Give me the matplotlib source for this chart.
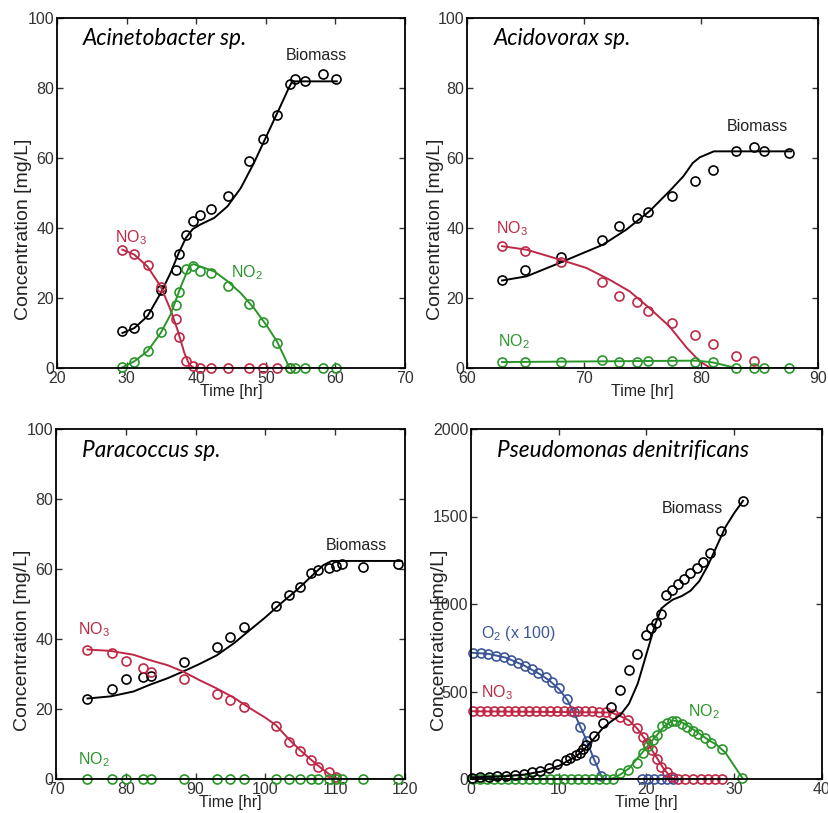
import matplotlib
matplotlib.use('Agg')
import matplotlib.pyplot as plt

plt.rcParams['font.family'] = ['Liberation Sans', 'DejaVu Sans']
plt.rcParams['mathtext.default'] = 'regular'

RED = '#BE2846'
GREEN = '#2A962A'
BLUE = '#3C5596'
BLACK = 'black'

# Acinetobacter sp. -- measured
aci_t = [29.4, 31.0, 33.1, 34.9, 37.1, 37.5, 38.6, 39.6, 40.6, 42.1, 44.6, 47.6, 49.6, 51.6, 53.5, 54.2, 55.6, 58.2, 60.1]
aci_bio = [10.5, 11.4, 15.4, 22.2, 27.9, 32.7, 38.1, 41.9, 43.8, 45.5, 49.0, 59.2, 65.4, 72.4, 81.0, 82.7, 82.1, 84.1, 82.6]
aci_no3 = [33.8, 32.7, 29.5, 23.1, 14.0, 8.9, 2.1, 0.5, 0, 0, 0, 0, 0, 0, 0]
aci_no2 = [0.2, 1.7, 4.8, 10.3, 18.1, 21.7, 28.3, 29.0, 27.6, 27.0, 23.5, 18.3, 13.0, 7.1, 0, 0, 0, 0, 0]
# Acinetobacter sp. -- model
aci_fit_bio_t = [29.4, 31.1, 33.0, 34.9, 36.3, 37.5, 38.5, 39.5, 40.6, 42.6, 44.5, 46.4, 48.3, 50.2, 52.1, 53.3, 53.8, 60.2]
aci_fit_bio = [10.0, 11.4, 14.8, 21.4, 27.1, 32.9, 37.1, 39.7, 41.0, 42.9, 46.2, 51.4, 58.6, 66.7, 74.8, 80.0, 81.9, 81.9]
aci_fit_no3_t = [29.4, 31.1, 33.0, 34.9, 36.3, 37.3, 38.3, 39.0, 39.7, 54.0]
aci_fit_no3 = [33.8, 32.4, 29.0, 23.3, 16.7, 11.0, 4.3, 1.0, 0.0, 0.0]
aci_fit_no2_t = [29.4, 31.1, 33.0, 34.9, 36.3, 37.8, 39.0, 39.6, 40.6, 42.6, 44.5, 46.4, 48.3, 50.2, 51.6, 53.3, 53.5, 60.2]
aci_fit_no2 = [0.2, 1.9, 4.8, 10.0, 15.2, 23.3, 29.0, 29.7, 29.0, 27.6, 24.8, 21.4, 17.1, 11.9, 7.6, 0.5, 0.0, 0.0]

# Acidovorax sp. -- measured
acd_t = [63.0, 65.0, 68.0, 71.5, 73.0, 74.5, 75.5, 77.5, 79.5, 81.0, 83.0, 84.5, 85.4, 87.5]
acd_bio = [25.0, 28.1, 31.7, 36.5, 40.7, 42.9, 44.5, 49.2, 53.3, 56.5, 62.1, 63.0, 61.9, 61.3]
acd_no3 = [34.8, 33.3, 30.2, 24.5, 20.5, 18.9, 16.4, 12.8, 9.4, 6.8, 3.5, 1.9]
acd_no2 = [1.7, 1.7, 1.7, 2.2, 1.8, 1.8, 2.0, 2.1, 1.8, 1.6, 0, 0, 0, 0]
# Acidovorax sp. -- model
acd_fit_bio_t = [63.0, 65.1, 67.9, 69.6, 71.6, 73.6, 75.6, 77.3, 78.5, 79.3, 79.9, 81.1, 87.7]
acd_fit_bio = [25.0, 26.2, 30.0, 32.4, 35.2, 39.5, 44.8, 50.5, 54.8, 58.6, 60.2, 61.9, 61.9]
acd_fit_no3_t = [63.0, 65.1, 67.9, 70.2, 72.2, 73.9, 75.6, 77.3, 78.8, 79.9, 80.8]
acd_fit_no3 = [34.8, 33.8, 31.0, 28.6, 25.2, 21.9, 17.1, 11.9, 5.7, 1.9, 0.0]
acd_fit_no2_t = [63.0, 79.6, 81.0, 83.0, 87.5]
acd_fit_no2 = [1.7, 2.1, 1.6, 0.0, 0.0]

# Paracoccus sp. -- measured
par_t = [74.5, 78.0, 80.0, 82.5, 83.6, 88.4, 93.0, 94.9, 97.0, 101.5, 103.4, 105.0, 106.6, 107.6, 109.1, 110.1, 111.0, 114.0, 119.0]
par_bio = [23.0, 25.6, 28.6, 29.1, 29.4, 33.5, 37.8, 40.5, 43.3, 49.4, 52.6, 54.9, 58.8, 59.7, 60.2, 60.9, 61.3, 60.7, 61.4]
par_no3 = [37.0, 35.9, 33.8, 31.6, 30.5, 28.5, 24.3, 22.6, 20.7, 15.2, 10.7, 8.0, 5.4, 3.5, 1.9, 0.7]
par_no2 = [0] * 19
# Paracoccus sp. -- model
par_fit_bio_t = [74.5, 77.8, 81.1, 83.4, 86.0, 88.2, 90.5, 93.0, 95.5, 97.8, 100.0, 102.3, 104.5, 106.8, 108.3, 109.5, 119.5]
par_fit_bio = [23.0, 23.6, 25.0, 26.9, 28.8, 30.7, 32.8, 35.3, 38.8, 42.6, 46.2, 50.3, 54.0, 58.3, 61.1, 62.3, 62.3]
par_fit_no3_t = [74.5, 77.8, 81.1, 83.4, 86.0, 88.2, 90.5, 93.0, 95.5, 97.8, 100.0, 101.5, 103.4, 105.0, 106.6, 108.0, 109.0, 110.0, 110.5]
par_fit_no3 = [37.0, 36.6, 35.5, 34.0, 32.5, 30.7, 28.3, 25.9, 23.2, 20.2, 17.5, 15.4, 11.3, 8.2, 5.4, 3.1, 1.6, 0.3, 0.0]
par_fit_no2_t = [74.5, 119.5]
par_fit_no2 = [0.0, 0.0]

# Pseudomonas denitrificans -- measured
pse_bio_t = [0.1, 1.0, 2.0, 3.0, 4.0, 5.0, 6.0, 6.9, 7.9, 8.9, 9.8, 10.8, 11.3, 12.0, 12.4, 12.8, 13.1, 14.0, 15.0,
             16.0, 17.0, 18.0, 18.9, 20.0, 20.5, 21.1, 21.6, 22.2, 22.9, 23.6, 24.3, 25.0, 25.7, 26.4, 27.2, 28.5, 31.0]
pse_bio = [8, 10, 13, 17, 19, 23, 29, 38, 48, 65, 86, 109, 122, 137, 150, 170, 194, 246, 318,
           410, 509, 623, 714, 823, 861, 893, 945, 1051, 1080, 1115, 1145, 1175, 1204, 1240, 1290, 1415, 1590]
pse_o2_t = [0.2, 1.1, 1.9, 2.9, 3.8, 4.6, 5.4, 6.1, 6.9, 7.6, 8.5, 9.2, 10.0, 10.9, 11.7, 12.4, 13.2, 14.0, 14.8,
            19.5, 20.2, 20.9, 21.6, 22.3, 23.0]
pse_o2 = [720, 718, 712, 705, 695, 682, 663, 646, 628, 608, 582, 555, 518, 458, 385, 300, 220, 110, 15,
          0, 0, 0, 0, 0, 0]
pse_no3_t = [0.2, 1.0, 1.8, 2.6, 3.4, 4.2, 5.0, 5.8, 6.6, 7.4, 8.2, 9.0, 9.8, 10.6, 11.4, 12.2, 13.0, 13.8, 14.6, 15.4,
             16.2, 17.0, 17.9, 18.9, 19.6, 20.1, 20.6, 21.2, 21.7, 22.3, 22.9, 23.6, 24.4, 25.3, 26.2, 27.0, 27.8, 28.6]
pse_no3 = [388, 388, 387, 388, 387, 388, 388, 387, 388, 387, 388, 387, 388, 387, 388, 387, 386, 386, 385, 384,
           370, 355, 338, 290, 240, 205, 165, 115, 70, 38, 10, 0, 0, 0, 0, 0, 0, 0]
pse_no2_t = [0.2, 1.0, 1.8, 2.6, 3.4, 4.2, 5.0, 5.8, 6.6, 7.4, 8.2, 9.0, 9.8, 10.6, 11.4, 12.2, 13.0, 13.8, 14.6, 15.4,
             16.2, 17.0, 17.9, 18.9, 19.6, 20.2, 20.7, 21.2, 21.8, 22.3, 22.9, 23.4, 24.0, 24.6, 25.3, 25.9, 26.7, 27.4,
             28.6, 30.9]
pse_no2 = [0] * 21 + [32, 51, 90, 150, 190, 223, 250, 305, 322, 333, 330, 314, 295, 275, 255, 235, 208, 170, 4]
# Pseudomonas denitrificans -- model
pse_fit_bio_t = [0, 2, 4, 6, 8, 10, 12, 13, 14, 15, 16, 17, 18, 19, 20, 21, 21.7, 22.3, 23, 24, 25, 26, 27, 28, 29, 30, 31]
pse_fit_bio = [10, 12, 16, 25, 42, 75, 130, 175, 230, 290, 330, 365, 430, 545, 715, 885, 975, 1000, 1025, 1045, 1075,
               1130, 1220, 1330, 1440, 1520, 1590]
pse_fit_o2_t = [0, 2, 4, 6, 8, 9, 10, 11, 12, 13, 14, 15, 23]
pse_fit_o2 = [722, 715, 693, 650, 595, 560, 515, 450, 350, 240, 115, 0, 0]
pse_fit_no3_t = [0, 16, 17, 18, 19, 20, 21, 22, 23, 28.6]
pse_fit_no3 = [387, 380, 360, 335, 285, 215, 135, 55, 0, 0]
pse_fit_no2_t = [0, 16, 17, 18, 19, 20, 21, 22, 23, 24, 25, 26, 27, 28, 29, 30, 31]
pse_fit_no2 = [0, 0, 25, 60, 120, 180, 240, 300, 335, 325, 295, 260, 225, 195, 150, 75, 0]


fig = plt.figure(figsize=(8.29, 8.13), dpi=100)
W, H = 829, 813


def make_axes(left, right, top, bottom):
    return fig.add_axes([left / W, 1 - bottom / H, (right - left) / W, (bottom - top) / H])


def series(ax, t, y, ft, fy, color):
    ax.plot(ft, fy, '-', color=color, lw=1.4)
    ax.plot(t, y, 'o', mfc='none', mec=color, ms=6.5, mew=1.2, clip_on=False)


def style(ax, xlim, ylim, xticks, yticks, title, ylab_x=-0.095):
    ax.set_xlim(xlim)
    ax.set_ylim(ylim)
    ax.set_xticks(xticks)
    ax.set_yticks(yticks)
    ax.tick_params(direction='in', top=True, right=True, length=4, width=1.0,
                   labelsize=11.5, pad=2, colors='#333333', labelcolor='#333333')
    for s in ax.spines.values():
        s.set_linewidth(1.3)
    ax.set_xlabel('Time [hr]', fontsize=11.5, labelpad=-1, color='#222222')
    ax.set_ylabel('Concentration [mg/L]', fontsize=14, color='#222222', va='center')
    ax.yaxis.set_label_coords(ylab_x, 0.395)
    ax.text(0.075, 0.94, title, transform=ax.transAxes, family='Lato', style='italic',
            fontsize=16.3, va='center', ha='left')


def label(ax, x, y, s, color):
    ax.text(x, y, s, color=color, fontsize=11.5, ha='center', va='center')


# Acinetobacter
ax1 = make_axes(57, 405, 18, 368)
series(ax1, aci_t, aci_bio, aci_fit_bio_t, aci_fit_bio, BLACK)
series(ax1, aci_t[:15], aci_no3, aci_fit_no3_t, aci_fit_no3, RED)
series(ax1, aci_t, aci_no2, aci_fit_no2_t, aci_fit_no2, GREEN)
style(ax1, (20, 70), (0, 100), range(20, 71, 10), range(0, 101, 20), 'Acinetobacter sp.')
label(ax1, 57.2, 89.4, 'Biomass', '#222222')
label(ax1, 30.6, 37.1, 'NO$_3$', RED)
label(ax1, 47.3, 27.1, 'NO$_2$', GREEN)

# Acidovorax
ax2 = make_axes(467, 818, 18, 368)
series(ax2, acd_t, acd_bio, acd_fit_bio_t, acd_fit_bio, BLACK)
series(ax2, acd_t[:12], acd_no3, acd_fit_no3_t, acd_fit_no3, RED)
series(ax2, acd_t, acd_no2, acd_fit_no2_t, acd_fit_no2, GREEN)
style(ax2, (60, 90), (0, 100), range(60, 91, 10), range(0, 101, 20), 'Acidovorax sp.', -0.09)
label(ax2, 84.8, 68.9, 'Biomass', '#222222')
label(ax2, 63.8, 39.7, 'NO$_3$', RED)
label(ax2, 64.0, 7.4, 'NO$_2$', GREEN)

# Paracoccus
ax3 = make_axes(56, 405, 429, 779)
series(ax3, par_t, par_bio, par_fit_bio_t, par_fit_bio, BLACK)
series(ax3, par_t[:16], par_no3, par_fit_no3_t, par_fit_no3, RED)
series(ax3, par_t, par_no2, par_fit_no2_t, par_fit_no2, GREEN)
style(ax3, (70, 120), (0, 100), range(70, 121, 10), range(0, 101, 20), 'Paracoccus sp.')
label(ax3, 113.1, 66.6, 'Biomass', '#222222')
label(ax3, 75.4, 42.6, 'NO$_3$', RED)
label(ax3, 75.4, 5.4, 'NO$_2$', GREEN)

# Pseudomonas denitrificans
ax4 = make_axes(471, 822, 429, 779)
series(ax4, pse_o2_t, pse_o2, pse_fit_o2_t, pse_fit_o2, BLUE)
series(ax4, pse_no3_t, pse_no3, pse_fit_no3_t, pse_fit_no3, RED)
series(ax4, pse_no2_t, pse_no2, pse_fit_no2_t, pse_fit_no2, GREEN)
series(ax4, pse_bio_t, pse_bio, pse_fit_bio_t, pse_fit_bio, BLACK)
style(ax4, (0, 40), (0, 2000), range(0, 41, 10), range(0, 2001, 500), 'Pseudomonas denitrificans', -0.09)
label(ax4, 25.2, 1543, 'Biomass', '#222222')
label(ax4, 5.4, 834, 'O$_2$ (x 100)', BLUE)
label(ax4, 3.0, 491, 'NO$_3$', RED)
label(ax4, 26.5, 383, 'NO$_2$', GREEN)

fig.savefig('out.png', dpi=100)
